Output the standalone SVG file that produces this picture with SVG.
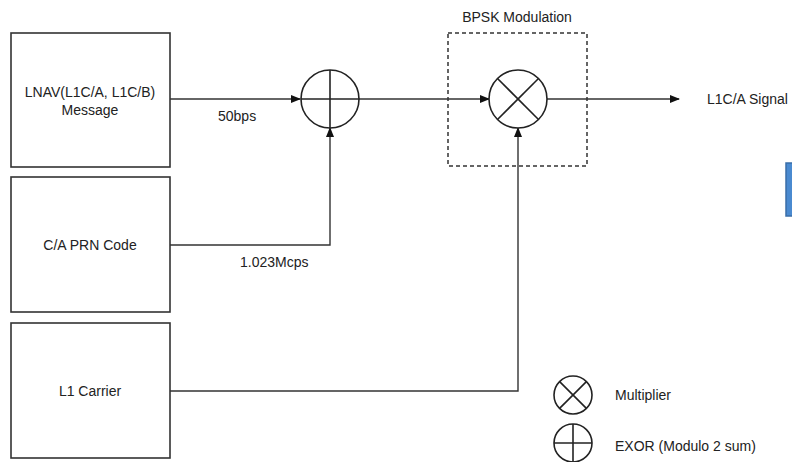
<svg xmlns="http://www.w3.org/2000/svg" width="792" height="462" viewBox="0 0 792 462">
<style>
.box{fill:#fff;stroke:#333;stroke-width:1.6}
.ln{fill:none;stroke:#333;stroke-width:1.4}
.op{fill:#fff;stroke:#222;stroke-width:1.6}
.opl{stroke:#222;stroke-width:1.6}
.t{font-family:"Liberation Sans",Arial,sans-serif;font-size:14px;fill:#222}
.c{text-anchor:middle}
</style>
<defs>
<marker id="ah" markerWidth="10" markerHeight="8" refX="9" refY="4" orient="auto" markerUnits="userSpaceOnUse">
<path d="M0,0 L10,4 L0,8 z" fill="#111"/>
</marker>
</defs>
<rect width="792" height="462" fill="#fff"/>
<g id="lnav">
<rect class="box" x="11" y="33" width="159" height="134"/>
<text class="t c" x="90" y="97">LNAV(L1C/A, L1C/B)</text>
<text class="t c" x="90" y="115">Message</text>
</g>
<g id="prn">
<rect class="box" x="11" y="177" width="159" height="135"/>
<text class="t c" x="90" y="250">C/A PRN Code</text>
</g>
<g id="carrier">
<rect class="box" x="11" y="323" width="159" height="135"/>
<text class="t c" x="90" y="396">L1 Carrier</text>
</g>
<g id="bpsk">
<rect x="448" y="33" width="139" height="133" fill="none" stroke="#333" stroke-width="1.5" stroke-dasharray="4,3"/>
<text class="t c" x="517" y="22">BPSK Modulation</text>
</g>
<g id="connectors">
<line class="ln" x1="170" y1="99" x2="300" y2="99" marker-end="url(#ah)"/>
<polyline class="ln" points="170,245 330,245 330,128" marker-end="url(#ah)"/>
<line class="ln" x1="359" y1="99" x2="489" y2="99" marker-end="url(#ah)"/>
<polyline class="ln" points="170,391 518,391 518,128" marker-end="url(#ah)"/>
<line class="ln" x1="547" y1="99" x2="679" y2="99" marker-end="url(#ah)"/>
<text class="t" x="218" y="121">50bps</text>
<text class="t" x="240" y="267">1.023Mcps</text>
</g>
<g id="exor">
<circle class="op" cx="330" cy="99" r="29"/>
<line class="opl" x1="301" y1="99" x2="359" y2="99"/>
<line class="opl" x1="330" y1="70" x2="330" y2="128"/>
</g>
<g id="multiplier">
<circle class="op" cx="518" cy="99" r="29"/>
<line class="opl" x1="497.5" y1="78.5" x2="538.5" y2="119.5"/>
<line class="opl" x1="538.5" y1="78.5" x2="497.5" y2="119.5"/>
</g>
<g id="output">
<text class="t" x="707" y="104">L1C/A Signal</text>
</g>
<g id="legend-multiplier">
<circle class="op" cx="573" cy="395" r="19"/>
<line class="opl" x1="559.6" y1="381.6" x2="586.4" y2="408.4"/>
<line class="opl" x1="586.4" y1="381.6" x2="559.6" y2="408.4"/>
<text class="t" x="615" y="400">Multiplier</text>
</g>
<g id="legend-exor">
<circle class="op" cx="573" cy="443" r="19"/>
<line class="opl" x1="554" y1="443" x2="592" y2="443"/>
<line class="opl" x1="573" y1="424" x2="573" y2="462"/>
<text class="t" x="615" y="451">EXOR (Modulo 2 sum)</text>
</g>
<g id="blue-tab">
<rect x="786" y="163" width="8" height="53" fill="#4a8ad0" stroke="#3a6ea8" stroke-width="1.5"/>
</g>
</svg>
